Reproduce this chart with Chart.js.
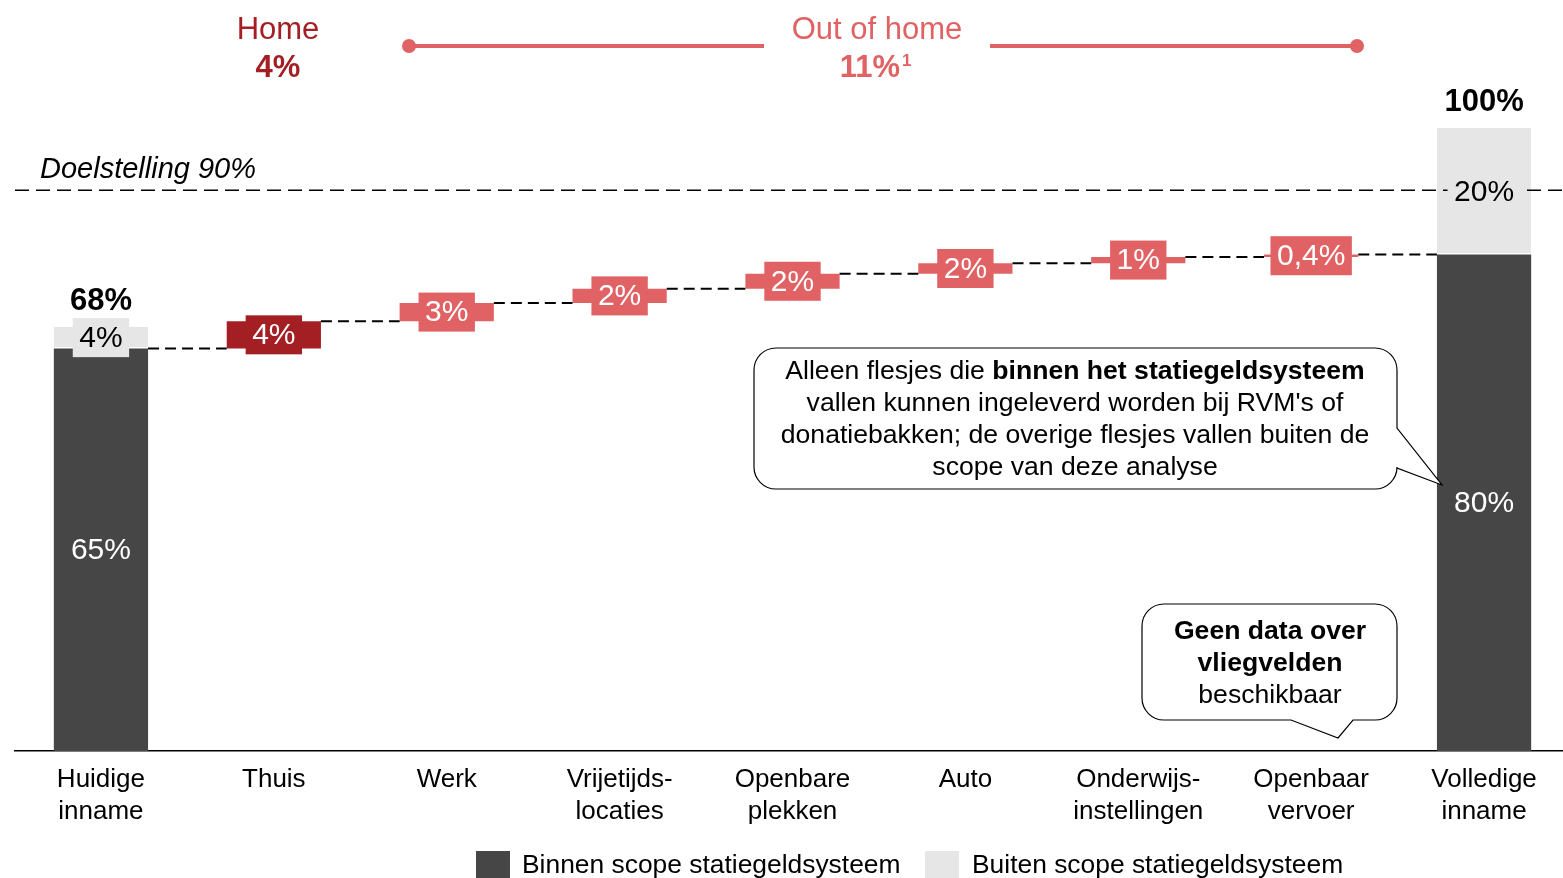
<!DOCTYPE html>
<html>
<head>
<meta charset="utf-8">
<script src="https://cdn.jsdelivr.net/npm/chart.js@4.4.1/dist/chart.umd.min.js"></script>
<style>
  html, body { margin: 0; padding: 0; background: #fff; overflow: hidden; }
  canvas { display: block; }
</style>
</head>
<body>
<canvas id="chart" width="1571" height="878" style="width:1571px;height:878px"></canvas>
<script>
// ---- data -------------------------------------------------------------
const categories = [
  ['Huidige', 'inname'], ['Thuis'], ['Werk'], ['Vrijetijds-', 'locaties'],
  ['Openbare', 'plekken'], ['Auto'], ['Onderwijs-', 'instellingen'],
  ['Openbaar', 'vervoer'], ['Volledige', 'inname'],
];
const binnenScope = [64.6, null, null, null, null, null, null, null, 79.7];
const buitenScope = [3.5, null, null, null, null, null, null, null, 20.3];
const stappen = [null, 4.4, 2.9, 2.3, 2.4, 1.7, 1.0, 0.4, null];

const binnenLabels = ['65%', '', '', '', '', '', '', '', '80%'];
const buitenLabels = ['4%', '', '', '', '', '', '', '', '20%'];
const totaalLabels = ['68%', '', '', '', '', '', '', '', '100%'];
const stapLabels = ['', '4%', '3%', '2%', '2%', '2%', '1%', '0,4%', ''];
const doelstelling = 90;

// ---- styles -----------------------------------------------------------
const FONT = "'Liberation Sans', Arial, sans-serif";
const DARK = '#464646', LIGHT = '#e6e6e6', HOME_RED = '#a31f24', CORAL = '#e06264';

// floating bars for the waterfall steps
const stapData = [];
const niveaus = [binnenScope[0]];
let niveau = binnenScope[0];
stappen.forEach((v, i) => {
  if (v == null) { stapData.push(null); return; }
  stapData.push([niveau, niveau + v]);
  niveau += v;
  niveaus[i] = niveau;
});
const buitenData = binnenScope.map((b, i) => b == null ? null : [b, b + buitenScope[i]]);
const stapKleuren = stappen.map((v, i) => i === 1 ? HOME_RED : CORAL);

function labelBox(ctx, text, cx, cy, fill, color) {
  ctx.font = `30px ${FONT}`;
  const w = ctx.measureText(text).width + 13, h = 39;
  if (fill) { ctx.fillStyle = fill; ctx.fillRect(cx - w / 2, cy - h / 2, w, h); }
  ctx.fillStyle = color;
  ctx.textAlign = 'center';
  ctx.textBaseline = 'middle';
  ctx.fillText(text, cx, cy + 1);
}

function roundedCallout(ctx, x1, y1, x2, y2, r, tail) {
  ctx.beginPath();
  ctx.moveTo(x1 + r, y1);
  ctx.lineTo(x2 - r, y1);
  ctx.arcTo(x2, y1, x2, y1 + r, r);
  if (tail.side === 'right') {
    ctx.lineTo(x2, tail.a);
    ctx.lineTo(tail.tx, tail.ty);
    ctx.lineTo(x2, tail.b);
  }
  ctx.lineTo(x2, y2 - r);
  ctx.arcTo(x2, y2, x2 - r, y2, r);
  if (tail.side === 'bottom') {
    ctx.lineTo(tail.b, y2);
    ctx.lineTo(tail.tx, tail.ty);
    ctx.lineTo(tail.a, y2);
  }
  ctx.lineTo(x1 + r, y2);
  ctx.arcTo(x1, y2, x1, y2 - r, r);
  ctx.lineTo(x1, y1 + r);
  ctx.arcTo(x1, y1, x1 + r, y1, r);
  ctx.closePath();
  ctx.fillStyle = '#fff';
  ctx.fill();
  ctx.strokeStyle = '#000';
  ctx.lineWidth = 1.2;
  ctx.stroke();
}

// labels, connectors and the target line
const waterfallLabels = {
  id: 'waterfallLabels',
  afterDatasetsDraw(chart) {
    const { ctx, scales: { x, y } } = chart;
    const darkMeta = chart.getDatasetMeta(0);
    const lightMeta = chart.getDatasetMeta(1);
    const stapMeta = chart.getDatasetMeta(2);
    const half = darkMeta.data[0].width / 2;
    ctx.save();

    // target line
    const yd = y.getPixelForValue(doelstelling);
    ctx.strokeStyle = '#000';
    ctx.lineWidth = 1.6;
    ctx.setLineDash([14, 7]);
    ctx.beginPath();
    ctx.moveTo(15, yd);
    ctx.lineTo(chart.width, yd);
    ctx.stroke();

    // connectors
    ctx.lineWidth = 2;
    ctx.setLineDash([11, 6]);
    for (let i = 0; i < categories.length - 1; i++) {
      const yy = y.getPixelForValue(niveaus[i]);
      ctx.beginPath();
      ctx.moveTo(x.getPixelForValue(i) + half, yy);
      ctx.lineTo(x.getPixelForValue(i + 1) - half, yy);
      ctx.stroke();
    }
    ctx.setLineDash([]);

    // step labels
    stapMeta.data.forEach((bar, i) => {
      if (!stapData[i]) return;
      labelBox(ctx, stapLabels[i], bar.x, (bar.y + bar.base) / 2, stapKleuren[i], '#fff');
    });

    // stacked bar labels
    darkMeta.data.forEach((bar, i) => {
      if (binnenScope[i] == null) return;
      labelBox(ctx, binnenLabels[i], bar.x, (bar.y + bar.base) / 2, null, '#fff');
      const lb = lightMeta.data[i];
      labelBox(ctx, buitenLabels[i], lb.x, (lb.y + lb.base) / 2, LIGHT, '#000');
      ctx.font = `bold 31px ${FONT}`;
      ctx.fillStyle = '#000';
      ctx.textAlign = 'center';
      ctx.textBaseline = 'alphabetic';
      ctx.fillText(totaalLabels[i], lb.x, lb.y - 17);
    });

    ctx.font = `italic 29px ${FONT}`;
    ctx.textAlign = 'left';
    ctx.textBaseline = 'middle';
    ctx.fillStyle = '#000';
    ctx.fillText('Doelstelling ' + doelstelling + '%', 40, yd - 20);
    ctx.restore();
  },
  afterDraw(chart) {
    const { ctx } = chart;
    ctx.save();
    ctx.textAlign = 'center';
    ctx.textBaseline = 'middle';

    // Home / Out of home header
    ctx.fillStyle = HOME_RED;
    ctx.font = `31px ${FONT}`;
    ctx.fillText('Home', 278, 30);
    ctx.font = `bold 31px ${FONT}`;
    ctx.fillText('4%', 278, 68);

    ctx.fillStyle = CORAL;
    ctx.font = `31px ${FONT}`;
    ctx.fillText('Out of home', 877, 30);
    ctx.font = `bold 31px ${FONT}`;
    ctx.fillText('11%', 870, 68);
    ctx.font = `bold 17px ${FONT}`;
    ctx.textAlign = 'left';
    ctx.fillText('1', 902, 61);

    ctx.strokeStyle = CORAL;
    ctx.lineWidth = 4;
    ctx.beginPath();
    ctx.moveTo(409, 46); ctx.lineTo(764, 46);
    ctx.moveTo(990, 46); ctx.lineTo(1357, 46);
    ctx.stroke();
    [409, 1357].forEach(cx => {
      ctx.beginPath(); ctx.arc(cx, 46, 7, 0, Math.PI * 2); ctx.fill();
    });

    // callouts
    roundedCallout(ctx, 754, 348, 1397, 489, 22, { side: 'right', a: 428, b: 468, tx: 1442, ty: 485 });
    ctx.fillStyle = '#000';
    ctx.textBaseline = 'middle';
    const CF = '26.6px';
    ctx.font = `${CF} ${FONT}`;
    const p1 = 'Alleen flesjes die ';
    const w1 = ctx.measureText(p1).width;
    ctx.font = `bold ${CF} ${FONT}`;
    const p2 = 'binnen het statiegeldsysteem';
    const w2 = ctx.measureText(p2).width;
    const sx = 1075 - (w1 + w2) / 2;
    ctx.textAlign = 'left';
    ctx.font = `${CF} ${FONT}`;
    ctx.fillText(p1, sx, 372);
    ctx.font = `bold ${CF} ${FONT}`;
    ctx.fillText(p2, sx + w1, 372);
    ctx.textAlign = 'center';
    ctx.font = `${CF} ${FONT}`;
    ctx.fillText("vallen kunnen ingeleverd worden bij RVM's of", 1075, 404);
    ctx.fillText('donatiebakken; de overige flesjes vallen buiten de', 1075, 436);
    ctx.fillText('scope van deze analyse', 1075, 468);

    roundedCallout(ctx, 1142, 604, 1397, 720, 22, { side: 'bottom', a: 1291, b: 1353, tx: 1338, ty: 738 });
    ctx.fillStyle = '#000';
    ctx.font = `bold ${CF} ${FONT}`;
    ctx.fillText('Geen data over', 1270, 632);
    ctx.fillText('vliegvelden', 1270, 664);
    ctx.font = `${CF} ${FONT}`;
    ctx.fillText('beschikbaar', 1270, 696);

    // legend
    ctx.textAlign = 'left';
    ctx.fillStyle = DARK;
    ctx.fillRect(476, 851, 34, 30);
    ctx.fillStyle = LIGHT;
    ctx.fillRect(925, 851, 34, 30);
    ctx.fillStyle = '#000';
    ctx.font = `26.4px ${FONT}`;
    ctx.fillText('Binnen scope statiegeldsysteem', 522, 866);
    ctx.fillText('Buiten scope statiegeldsysteem', 972, 866);
    ctx.restore();
  }
};

Chart.defaults.font.family = FONT;

new Chart(document.getElementById('chart'), {
  type: 'bar',
  data: {
    labels: categories,
    datasets: [
      { label: 'Binnen scope statiegeldsysteem', data: binnenScope, backgroundColor: DARK },
      {
        label: 'Buiten scope statiegeldsysteem', data: buitenData, backgroundColor: LIGHT,
        borderColor: '#fff', borderSkipped: false,
        borderWidth: { top: 0, left: 0, right: 0, bottom: 1.5 },
      },
      { label: 'Stappen', data: stapData, backgroundColor: stapKleuren },
    ],
  },
  options: {
    responsive: false,
    animation: false,
    devicePixelRatio: 1,
    layout: { padding: { left: 14.5, right: 0.5, top: 128, bottom: 0 } },
    datasets: { bar: { grouped: false, barPercentage: 0.545, categoryPercentage: 1 } },
    plugins: { legend: { display: false }, tooltip: { enabled: false } },
    scales: {
      x: {
        grid: { display: false },
        border: { display: true, color: '#000', width: 1.5 },
        ticks: {
          color: '#000', padding: 5, maxRotation: 0, autoSkip: false,
          font: { size: 26, lineHeight: 1.23 },
        },
        afterFit(scale) { scale.height = 127; },
      },
      y: { display: false, min: 0, max: 100 },
    },
  },
  plugins: [waterfallLabels],
});
</script>
</body>
</html>
